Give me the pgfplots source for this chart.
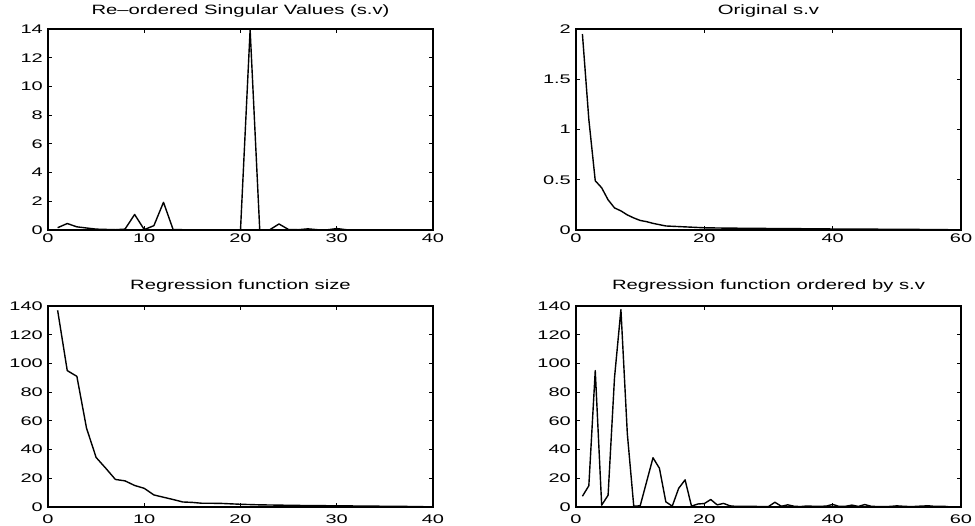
\documentclass[border=0pt]{standalone}
\usepackage{fontspec}
\setmainfont{Liberation Sans}
\usepackage{graphicx}
\usepackage{pgfplots}
\pgfplotsset{compat=1.18}
\newcommand{\tl}[1]{\scalebox{1.6}[1]{\fontsize{12.5bp}{14bp}\selectfont #1}}
\newcommand{\ttl}[1]{\scalebox{1.5}[1]{\fontsize{13.5bp}{16bp}\selectfont #1}}
\tikzset{dl/.style={draw=black, line width=1.4bp, mark=none, line join=round}}
\pgfplotsset{
  mat/.style={
    scale only axis, width=385bp, height=201bp, anchor=south west,
    axis line style={line width=1.2bp, black},
    tick style={line width=0.9bp, black},
    tick align=inside, major tick length=4bp,
    xtick pos=both, ytick pos=both,
    /pgf/number format/assume math mode=true,
    ticklabel style={inner sep=0pt},
    xticklabel={\tl{\pgfmathprintnumber{\tick}}},
    yticklabel={\tl{\pgfmathprintnumber{\tick}}},
    yticklabel style={anchor=east, xshift=-5bp},
    title style={at={(0.5,1)}, anchor=base, inner sep=0pt},
    clip=true,
  }
}
\begin{document}
\begin{tikzpicture}
\path[use as bounding box] (0,0) rectangle (975bp,526bp);
% top left
\begin{axis}[mat, at={(48bp,296bp)}, xmin=0, xmax=40, ymin=0, ymax=14,
  xtick={0,10,20,30,40}, ytick={0,2,...,14},
  xticklabel style={anchor=base, yshift=-13bp},
  title style={yshift=8.6bp},
  title={\ttl{Re–ordered Singular Values (s.v)}}]
\addplot[dl] coordinates {(1,0.16) (2,0.45) (3,0.22) (4,0.14) (5,0.06) (6,0.04) (7,0.02) (8,0.06) (9,1.08) (10,0.03)
 (11,0.3) (12,1.93) (13,0.03) (14,0.02) (15,0.01) (16,0.01) (17,0.01) (18,0.01) (19,0.01) (20,0.0)
 (21,13.95) (22,0.0) (23,0.0) (24,0.42) (25,0.03) (26,0.02) (27,0.08) (28,0.02) (29,0.01) (30,0.1)
 (31,0.02) (32,0.01) (33,0.0) (34,0.0) (35,0.0) (36,0.0) (37,0.0) (38,0.0) (39,0.0)};
\end{axis}
% top right
\begin{axis}[mat, at={(576bp,296bp)}, xmin=0, xmax=60, ymin=0, ymax=2,
  xtick={0,20,40,60}, ytick={0,0.5,1,1.5,2},
  xticklabel style={anchor=base, yshift=-13bp},
  title style={yshift=8.6bp},
  title={\ttl{Original s.v}}]
\addplot[dl] coordinates {(1,1.95) (2,1.1) (3,0.49) (4,0.42) (5,0.30) (6,0.22) (7,0.19) (8,0.15) (9,0.12) (10,0.095)
 (11,0.083) (12,0.066) (13,0.053) (14,0.04) (15,0.037) (16,0.034) (17,0.031) (18,0.028) (19,0.025) (20,0.022)
 (21,0.021) (22,0.020) (23,0.019) (24,0.018) (25,0.018) (26,0.017) (27,0.017) (28,0.016) (29,0.016) (30,0.015)
 (31,0.015) (32,0.014) (33,0.014) (34,0.013) (35,0.013) (36,0.012) (37,0.012) (38,0.011) (39,0.011) (40,0.010)
 (41,0.010) (42,0.009) (43,0.009) (44,0.009) (45,0.008) (46,0.008) (47,0.008) (48,0.007) (49,0.007) (50,0.007)
 (51,0.006) (52,0.006) (53,0.006) (54,0.005) (55,0.005) (56,0.005) (57,0.004) (58,0.004)};
\end{axis}
% bottom left
\begin{axis}[mat, at={(48bp,19bp)}, xmin=0, xmax=40, ymin=0, ymax=140,
  xtick={0,10,20,30,40}, ytick={0,20,...,140},
  xticklabel style={anchor=base, yshift=-16bp},
  title style={yshift=11bp},
  title={\ttl{Regression function size}}]
\addplot[dl] coordinates {(1,137) (2,95) (3,91) (4,55) (5,34.5) (6,27) (7,19.2) (8,18.2) (9,15) (10,13)
 (11,8.4) (12,6.8) (13,5.2) (14,3.5) (15,3.2) (16,2.6) (17,2.6) (18,2.5) (19,2.2) (20,1.9)
 (21,1.7) (22,1.5) (23,1.4) (24,1.3) (25,1.2) (26,1.1) (27,1.0) (28,0.95) (29,0.9) (30,0.85)
 (31,0.8) (32,0.7) (33,0.65) (34,0.6) (35,0.5) (36,0.45) (37,0.4) (38,0.35) (39,0.3)};
\end{axis}
% bottom right
\begin{axis}[mat, at={(576bp,19bp)}, xmin=0, xmax=60, ymin=0, ymax=140,
  xtick={0,20,40,60}, ytick={0,20,...,140},
  xticklabel style={anchor=base, yshift=-16bp},
  title style={yshift=11bp},
  title={\ttl{Regression function ordered by s.v}}]
\addplot[dl] coordinates {(1,7.5) (2,14.8) (3,95) (4,1.3) (5,8.2) (6,90) (7,137.5) (8,51) (9,0.6) (10,0.8)
 (11,17.5) (12,34.3) (13,27) (14,3.6) (15,0.6) (16,13) (17,18.9) (18,0.6) (19,2.1) (20,2.4)
 (21,5.2) (22,1.5) (23,2.5) (24,0.8) (25,0.4) (26,0.4) (27,0.5) (28,0.4) (29,0.3) (30,0.3)
 (31,3.3) (32,0.5) (33,1.5) (34,0.5) (35,0.3) (36,0.7) (37,0.5) (38,0.5) (39,0.6) (40,1.8)
 (41,0.4) (42,0.5) (43,1.3) (44,0.4) (45,1.7) (46,0.5) (47,0.3) (48,0.3) (49,0.4) (50,0.8)
 (51,0.5) (52,0.3) (53,0.4) (54,0.7) (55,0.8) (56,0.4) (57,0.5) (58,0.3)};
\end{axis}
\end{tikzpicture}
\end{document}
